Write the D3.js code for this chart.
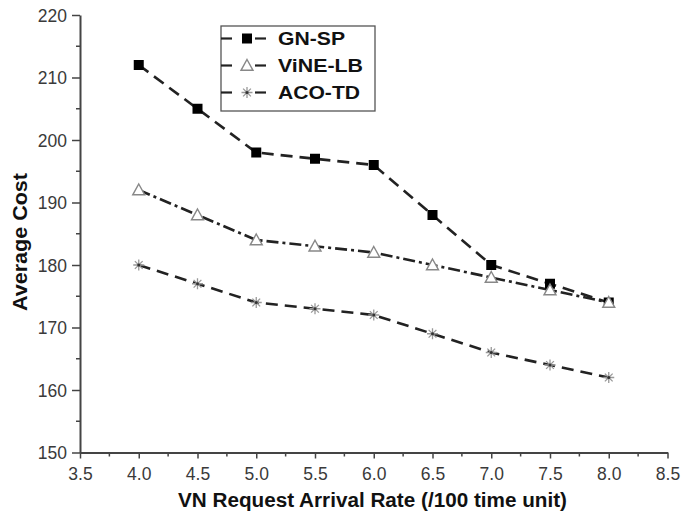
<!DOCTYPE html>
<html><head><meta charset="utf-8">
<script src="https://cdn.jsdelivr.net/npm/d3@7"></script>
<style>body{margin:0;background:#fff}svg{display:block}text{font-family:Arial,"Liberation Sans",sans-serif}</style>
</head><body><svg id="c" width="682" height="521"></svg>
<script>
const xValues = [4.0, 4.5, 5.0, 5.5, 6.0, 6.5, 7.0, 7.5, 8.0];
const gnsp = [212, 205, 198, 197, 196, 188, 180, 177, 174];
const vinelb = [192, 188, 184, 183, 182, 180, 178, 176, 174];
const acotd = [180, 177, 174, 173, 172, 169, 166, 164, 162];
const xTicks = [3.5, 4.0, 4.5, 5.0, 5.5, 6.0, 6.5, 7.0, 7.5, 8.0, 8.5];
const yTicks = [150, 160, 170, 180, 190, 200, 210, 220];
const seriesNames = ["GN-SP", "ViNE-LB", "ACO-TD"];

const svg = d3.select("#c");
const x = d3.scaleLinear().domain([3.5, 8.5]).range([80, 667.5]);
const y = d3.scaleLinear().domain([150, 220]).range([452.5, 15]);
const axisColor = "#444";

// minor ticks
const xMinor = d3.range(3.75, 8.5, 0.5);
const yMinor = d3.range(155, 220, 10);
svg.append("g").selectAll("line").data(xMinor).join("line")
  .attr("x1", d => x(d)).attr("x2", d => x(d)).attr("y1", y(150)).attr("y2", y(150) + 4)
  .attr("stroke", axisColor).attr("stroke-width", 1.5);
svg.append("g").selectAll("line").data(yMinor).join("line")
  .attr("y1", d => y(d)).attr("y2", d => y(d)).attr("x1", x(3.5)).attr("x2", x(3.5) - 4)
  .attr("stroke", axisColor).attr("stroke-width", 1.5);

const xAxis = svg.append("g").attr("transform", `translate(0,${y(150)})`)
  .call(d3.axisBottom(x).tickValues(xTicks).tickFormat(d3.format(".1f")).tickSizeInner(6).tickSizeOuter(0).tickPadding(9));
const yAxis = svg.append("g").attr("transform", `translate(${x(3.5)},0)`)
  .call(d3.axisLeft(y).tickValues(yTicks).tickFormat(d3.format("d")).tickSizeInner(8).tickSizeOuter(0).tickPadding(5));
[xAxis, yAxis].forEach(a => {
  a.select(".domain").attr("stroke", axisColor).attr("stroke-width", 2);
  a.selectAll(".tick line").attr("stroke", axisColor).attr("stroke-width", 1.5);
  a.selectAll(".tick text").attr("fill", "#3a3a3a").style("font-size", "17.5px");
});
yAxis.selectAll(".tick text").attr("dy", "0.36em");

svg.append("text").attr("x", 372.5).attr("y", 506.5).attr("text-anchor", "middle")
  .attr("textLength", 389).attr("lengthAdjust", "spacingAndGlyphs")
  .style("font-size", "19.5px").style("font-weight", "bold").attr("fill", "#111")
  .text("VN Request Arrival Rate (/100 time unit)");
svg.append("text").attr("transform", "translate(27,242) rotate(-90)").attr("text-anchor", "middle")
  .attr("textLength", 138).attr("lengthAdjust", "spacingAndGlyphs")
  .style("font-size", "19.5px").style("font-weight", "bold").attr("fill", "#111")
  .text("Average Cost");

const series = [
  {name: seriesNames[0], values: gnsp, dash: "12,7", marker: "square", tl: 67},
  {name: seriesNames[1], values: vinelb, dash: "12,4,3,4", marker: "triangle", tl: 85},
  {name: seriesNames[2], values: acotd, dash: "12,7", marker: "star", tl: 82}
];
const line = d3.line().x((d, i) => x(xValues[i])).y(d => y(d));

function drawMarker(g, type, cx, cy) {
  if (type === "square") {
    g.append("rect").attr("x", cx - 5).attr("y", cy - 5).attr("width", 10).attr("height", 10).attr("fill", "#000");
  } else if (type === "triangle") {
    const s = 6;
    g.append("path").attr("d", `M${cx},${cy - s}L${cx + s},${cy + s * 0.8}L${cx - s},${cy + s * 0.8}Z`)
      .attr("fill", "#fff").attr("stroke", "#888").attr("stroke-width", 1.4);
  } else {
    const r = 5.5;
    const p = [];
    [0, 45, 90, 135].forEach(a => {
      const rad = a * Math.PI / 180;
      p.push(`M${cx - r * Math.cos(rad)},${cy - r * Math.sin(rad)}L${cx + r * Math.cos(rad)},${cy + r * Math.sin(rad)}`);
    });
    g.append("path").attr("d", p.join("")).attr("stroke", "#999").attr("stroke-width", 1.3).attr("fill", "none");
    g.append("circle").attr("cx", cx).attr("cy", cy).attr("r", 1.5).attr("fill", "#333");
  }
}

series.forEach(s => {
  svg.append("path").datum(s.values).attr("d", line).attr("fill", "none")
    .attr("stroke", "#222").attr("stroke-width", 2.6).attr("stroke-dasharray", s.dash);
});
series.forEach(s => {
  const g = svg.append("g");
  s.values.forEach((v, i) => drawMarker(g, s.marker, x(xValues[i]), y(v)));
});

// legend
const lg = svg.append("g");
lg.append("rect").attr("x", 221).attr("y", 26).attr("width", 154).attr("height", 85)
  .attr("fill", "#fff").attr("stroke", "#555").attr("stroke-width", 1.3);
series.forEach((s, i) => {
  const cy = 38.5 + i * 27;
  lg.append("line").attr("x1", 221).attr("x2", 232).attr("y1", cy).attr("y2", cy).attr("stroke", "#222").attr("stroke-width", 2.2);
  lg.append("line").attr("x1", 255).attr("x2", 266).attr("y1", cy).attr("y2", cy).attr("stroke", "#222").attr("stroke-width", 2.2);
  drawMarker(lg, s.marker, 247, cy);
  lg.append("text").attr("x", 278).attr("y", cy).attr("dy", "0.36em")
    .attr("textLength", s.tl).attr("lengthAdjust", "spacingAndGlyphs")
    .style("font-size", "19px").style("font-weight", "bold").attr("fill", "#111").text(s.name);
});
</script></body></html>
